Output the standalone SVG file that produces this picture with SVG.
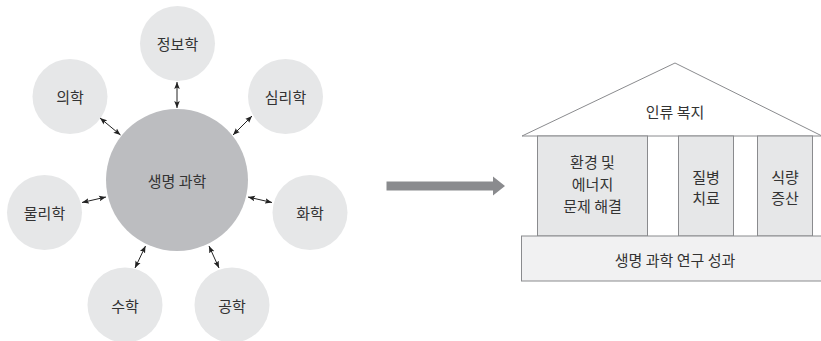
<svg xmlns="http://www.w3.org/2000/svg" width="821" height="341" viewBox="0 0 821 341">
<style>
.sat{fill:#e6e7e8}
.hub{fill:#bcbdc0}
.t{font-family:"Noto Sans CJK KR","Noto Sans",sans-serif;font-size:15px;fill:#333;text-anchor:middle;dominant-baseline:central}
.c{stroke:#222;stroke-width:1;fill:none;marker-start:url(#ah);marker-end:url(#ah)}
.box{stroke:#8a8b8e;stroke-width:1}
</style>
<defs>
<marker id="ah" viewBox="0 0 10 10" refX="10" refY="5" markerWidth="7" markerHeight="7" orient="auto-start-reverse" markerUnits="userSpaceOnUse">
<path d="M0,1 L10,5 L0,9 L2,5 Z" fill="#222"/>
</marker>
</defs>
<rect width="821" height="341" fill="#fff"/>
<g id="hub"><circle class="hub" cx="177" cy="180" r="71"/><text class="t" x="177" y="180">생명 과학</text></g>
<g id="n-info"><circle class="sat" cx="177.5" cy="43.5" r="37.5"/><text class="t" x="177.5" y="43.5">정보학</text></g>
<g id="n-med"><circle class="sat" cx="70" cy="96.5" r="37.5"/><text class="t" x="70" y="96.5">의학</text></g>
<g id="n-psy"><circle class="sat" cx="285.5" cy="96.5" r="37.5"/><text class="t" x="285.5" y="96.5">심리학</text></g>
<g id="n-phy"><circle class="sat" cx="44.5" cy="212.5" r="37.5"/><text class="t" x="44.5" y="212.5">물리학</text></g>
<g id="n-chem"><circle class="sat" cx="310" cy="212.5" r="37.5"/><text class="t" x="310" y="212.5">화학</text></g>
<g id="n-math"><circle class="sat" cx="125" cy="305" r="37.5"/><text class="t" x="125" y="305">수학</text></g>
<g id="n-eng"><circle class="sat" cx="232" cy="305" r="37.5"/><text class="t" x="232" y="305">공학</text></g>
<g id="connectors">
<line class="c" x1="177" y1="82" x2="177" y2="108"/>
<line class="c" x1="100" y1="118" x2="120.5" y2="135"/>
<line class="c" x1="252" y1="116" x2="233" y2="135"/>
<line class="c" x1="82" y1="202.5" x2="106" y2="197"/>
<line class="c" x1="248" y1="197" x2="272" y2="202.5"/>
<line class="c" x1="145.5" y1="246" x2="135" y2="268"/>
<line class="c" x1="209" y1="246" x2="219" y2="268"/>
<path d="M386.5,181.5 H493 V176.5 L505,186 L493,195.5 V190.5 H386.5 Z" fill="#8a8b8e"/>
</g>
<g id="roof"><polygon class="box" points="522,136 675,63 822,136" fill="#fff"/><text class="t" x="675" y="111">인류 복지</text></g>
<g id="col1"><rect class="box" x="537.5" y="136" width="110" height="100" fill="#e6e7e8"/><text class="t" x="592.5" y="161.5">환경 및</text><text class="t" x="592.5" y="183.5">에너지</text><text class="t" x="592.5" y="205.5">문제 해결</text></g>
<g id="col2"><rect class="box" x="678.5" y="136" width="55" height="100" fill="#e6e7e8"/><text class="t" x="706" y="176">질병</text><text class="t" x="706" y="197">치료</text></g>
<g id="col3"><rect class="box" x="757.5" y="136" width="55" height="100" fill="#e6e7e8"/><text class="t" x="785" y="176">식량</text><text class="t" x="785" y="197">증산</text></g>
<g id="base"><rect class="box" x="521.5" y="236" width="300" height="45" fill="#f1f1f2"/><text class="t" x="675" y="259">생명 과학 연구 성과</text></g>
</svg>
